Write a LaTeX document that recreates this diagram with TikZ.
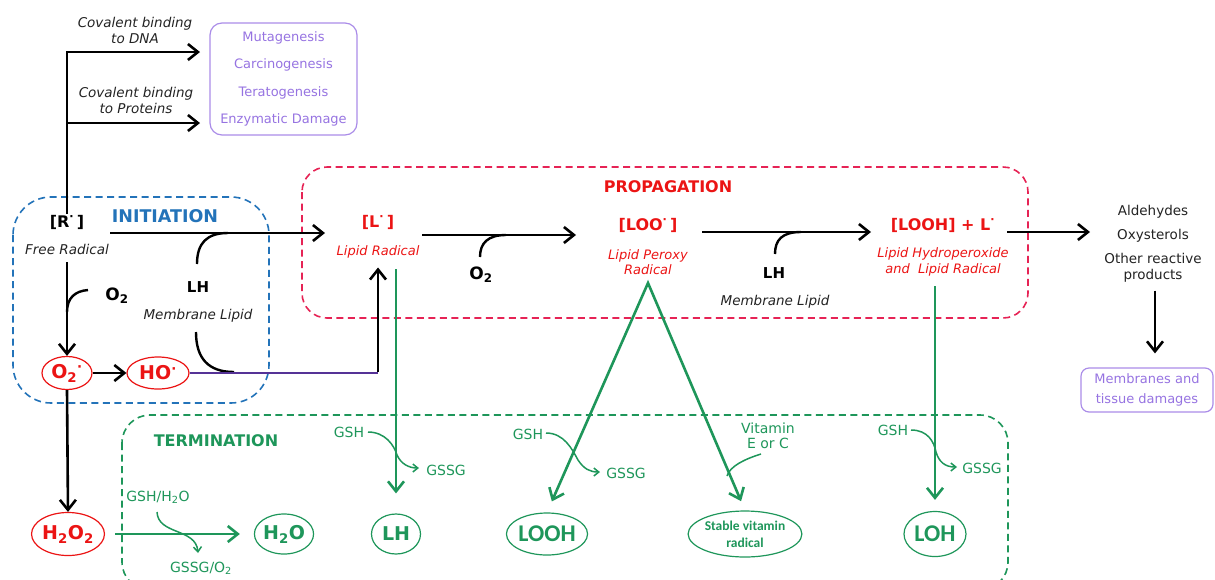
\documentclass[tikz,border=0pt]{standalone}
\usepackage{fontspec}
\setmainfont{DejaVu Sans}
\newfontfamily\narrowfont{Carlito}
\usetikzlibrary{arrows.meta,shapes.geometric}
\definecolor{ros}{RGB}{235,20,20}
\definecolor{pred}{RGB}{230,35,85}
\definecolor{iblue}{RGB}{35,115,185}
\definecolor{tgreen}{RGB}{30,150,90}
\definecolor{purp}{RGB}{150,115,225}
\definecolor{purpl}{RGB}{170,140,232}
\definecolor{hoviolet}{RGB}{85,50,150}
\definecolor{ink}{RGB}{35,35,35}
\begin{document}
\begin{tikzpicture}[x=1pt,y=-1pt,
  lbl/.style={font=\fontsize{13.5}{16}\selectfont\itshape,text=ink,align=center,inner sep=0pt},
  sublbl/.style={lbl,text=ros,font=\fontsize{13}{15.5}\selectfont\itshape},
  species/.style={font=\fontsize{16}{18}\selectfont\bfseries,text=ros,inner sep=1pt},
  head/.style={font=\fontsize{16}{18}\selectfont\bfseries,inner sep=0pt},
  lhtxt/.style={font=\fontsize{15}{17}\selectfont\bfseries,inner sep=0pt},
  otxt/.style={font=\fontsize{17}{19}\selectfont\bfseries,inner sep=0pt},
  gtxt/.style={font=\fontsize{14}{15.5}\selectfont,text=tgreen,align=center,inner sep=0pt},
  effbox/.style={draw=purpl,text=purp,line width=1.2pt,rounded corners=12pt,align=center,
    font=\fontsize{13}{27.5}\selectfont},
  rell/.style={ellipse,draw=ros,text=ros,line width=1.2pt,inner sep=0pt,
    font=\fontsize{19}{21}\selectfont\bfseries},
  gell/.style={ellipse,draw=tgreen,text=tgreen,line width=1.2pt,inner sep=0pt,
    font=\fontsize{19}{21}\selectfont\bfseries},
  phase/.style={line width=1.6pt,dash pattern=on 7pt off 4.5pt},
  arr/.style={line width=2.6pt,-{Straight Barb[length=10pt,width=16pt]}},
  garr/.style={arr,draw=tgreen},
  crv/.style={line width=2.4pt},
  gcrv/.style={line width=1.5pt,draw=tgreen,-{Straight Barb[length=5pt,width=8pt]}}]
\useasboundingbox (0,0) rectangle (1215,579);

% phase boxes
\draw[phase,draw=iblue,rounded corners=38pt] (13,197) rectangle (269,403);
\draw[phase,draw=pred,rounded corners=25pt] (302,167) rectangle (1028,318);
\draw[phase,draw=tgreen,rounded corners=28pt] (122,415) rectangle (1008,590);
\node[head,text=iblue,font=\fontsize{17.5}{19}\selectfont\bfseries] (inittitle) at (165,216) {INITIATION};
\node[head,text=ros] (proptitle) at (668,187) {PROPAGATION};
\node[head,text=tgreen] (termtitle) at (216,441) {TERMINATION};

% covalent binding
\node[lbl] (dnalbl) at (135,30) {Covalent binding\\to DNA};
\node[lbl] (protlbl) at (136,100) {Covalent binding\\to Proteins};
\node[effbox,minimum width=147pt,minimum height=112pt] (effects) at (283.5,79)
  {Mutagenesis\\Carcinogenesis\\Teratogenesis\\Enzymatic Damage};
\node[species,text=black] (R) at (67,222) {[R\textsuperscript{·}\,]};
\node[lbl] (Rsub) at (67,249) {Free Radical};
\coordinate (dnatip) at (200,52);
\coordinate (prottip) at (200,123);
\draw[arr] (R.north) |- (dnatip);
\draw[arr] (R.north |- prottip) -- (prottip);

% initiation
\node[species] (L) at (378,222) {[L\textsuperscript{·}\,]};
\node[sublbl] (Lsub) at (378,252) {Lipid Radical};
\coordinate (Rout) at (110,233);
\coordinate (Lin) at (325,233);
\draw[arr] (Rout) -- (Lin);
\draw[crv] (197,264) .. controls (197,243) and (207,233) .. (228,233);
\node[lhtxt] (LH1) at (198,287) {LH};
\node[lbl] (ML1) at (198,316) {Membrane Lipid};
\draw[crv] (196,332) .. controls (196,358) and (208,372) .. (234,372);
\node[otxt] (O2a) at (117,296) {O\textsubscript{2}};
\node[rell,minimum width=50pt,minimum height=33pt] (O2rad) at (67,373) {O\textsubscript{2}\textsuperscript{·}};
\node[rell,minimum width=62pt,minimum height=32pt] (HO) at (158,373) {HO\textsuperscript{·}};
\draw[arr,shorten <=8pt] (Rsub.south) -- (O2rad.north);
\draw[crv] (88,290) .. controls (75,291) and (67,298) .. (67,312);
\draw[arr] (O2rad) -- (HO);
\draw[line width=2.6pt,draw=hoviolet] (HO.east) -- (HO.east -| Lsub.south);
\draw[arr] ([yshift=1.3pt]HO.east -| Lsub.south) -- ([yshift=-9pt]Lsub.south);
\node[rell,minimum width=71pt,minimum height=43pt] (H2O2) at (68,534) {H\textsubscript{2}O\textsubscript{2}};
\draw[arr] (O2rad.south) -- (H2O2.north);

% propagation
\node[species] (LOO) at (648,225) {[LOO\textsuperscript{·}\,]};
\node[sublbl] (LOOsub) at (648,262) {Lipid Peroxy\\Radical};
\coordinate (Lout) at (422,235);
\coordinate (LOOin) at (576,235);
\draw[arr] (Lout) -- (LOOin);
\draw[crv] (480,257) .. controls (480,243) and (488,235) .. (506,235);
\node[otxt] (O2b) at (481,275) {O\textsubscript{2}};
\coordinate (LOOout) at (702,232);
\coordinate (LOOHin) at (871,232);
\draw[arr] (LOOout) -- (LOOHin);
\draw[crv] (775,254) .. controls (775,240) and (782,232) .. (801,232);
\node[lhtxt] (LH2) at (774,273) {LH};
\node[lbl] (ML2) at (775,302) {Membrane Lipid};
\node[species] (LOOH) at (943,225) {[LOOH] + L\textsuperscript{·}};
\node[sublbl] (LOOHsub) at (943,262) {Lipid Hydroperoxide\\and\ \ Lipid Radical};
\coordinate (LOOHout) at (1007,232);
\coordinate (prodin) at (1090,232);
\draw[arr] (LOOHout) -- (prodin);
\node[font=\fontsize{13.5}{16}\selectfont,text=ink,align=center,inner sep=0pt] (prod) at (1153,244)
  {Aldehydes\\[8pt]Oxysterols\\[8pt]Other reactive\\products};
\node[effbox,minimum width=132pt,minimum height=44pt,rounded corners=8pt,
  font=\fontsize{13}{20}\selectfont] (membranes) at (1147,390) {Membranes and\\tissue damages};
\draw[arr,shorten <=8pt,shorten >=14pt] (prod.south -| 1155,0) -- (membranes.north -| 1155,0);

% termination
\node[gell,minimum width=54pt,minimum height=40pt] (H2O) at (284,534) {H\textsubscript{2}O};
\draw[garr,shorten <=10pt,shorten >=14pt] (H2O2.east) -- (H2O.west);
\node[gtxt] (gsh1) at (158,497) {GSH/H\textsubscript{2}O};
\draw[gcrv] (157,512) .. controls (158,535) and (196,528) .. (198,553);
\node[gtxt] (gssg1) at (201,568) {GSSG/O\textsubscript{2}};

\node[gell,minimum width=49pt,minimum height=40pt] (LHg) at (396,534) {LH};
\draw[garr,shorten <=11pt,shorten >=20pt] (Lsub.south -| LHg.north) -- (LHg.north);
\node[gtxt] (gsh2) at (349,432) {GSH};
\draw[gcrv] (368,432) .. controls (385,432) and (394,445) .. (397,455)
  .. controls (401,464) and (409,468) .. (419,468);
\node[gtxt] (gssg2) at (446,470) {GSSG};

\node[gell,minimum width=74pt,minimum height=42pt,font=\narrowfont\fontsize{24}{26}\selectfont\bfseries] (LOOHg) at (547,534) {LOOH};
\node[gell,minimum width=104pt,minimum height=46pt,align=center,
  font=\narrowfont\fontsize{13.5}{17}\selectfont\bfseries] (stable) at (745,534) {Stable vitamin\\radical};
\node[gell,minimum width=62pt,minimum height=45pt,font=\narrowfont\fontsize{24}{26}\selectfont\bfseries] (LOHg) at (935,534) {LOH};
\coordinate (apex) at (648,283);
\draw[line width=2.6pt,draw=tgreen,{Straight Barb[length=10pt,width=16pt]}-{Straight Barb[length=10pt,width=16pt]},
  shorten <=12pt,shorten >=10pt] (LOOHg.north) -- (apex) -- (stable.north);
\node[gtxt] (gsh3) at (528,434) {GSH};
\draw[gcrv] (546,433) .. controls (564,433) and (572,449) .. (578,460)
  .. controls (584,469) and (590,472) .. (600,472);
\node[gtxt] (gssg3) at (626,473) {GSSG};
\node[gtxt] (vit) at (768,436) {Vitamin\\E or C};
\draw[line width=1.5pt,draw=tgreen] (761,454) .. controls (745,459) and (730,466) .. (727,476);

\draw[garr,shorten <=10pt,shorten >=11pt] (LOOHsub.south -| LOHg.north) -- (LOHg.north);
\node[gtxt] (gsh4) at (893,430) {GSH};
\draw[gcrv] (911,430) .. controls (928,430) and (934,442) .. (936,452)
  .. controls (939,462) and (945,467) .. (957,467);
\node[gtxt] (gssg4) at (982,468) {GSSG};
\end{tikzpicture}
\end{document}
